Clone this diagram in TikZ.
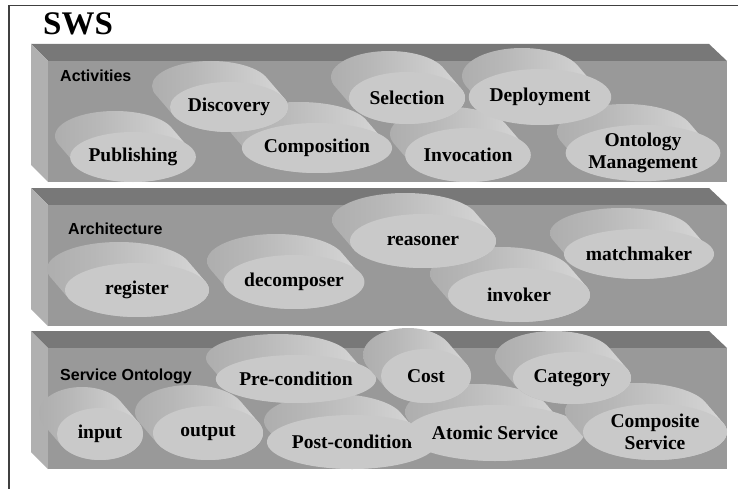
\documentclass[tikz,border=0pt]{standalone}
\usepackage{fontspec}
\setmainfont{Liberation Serif}
\newfontfamily\lsans{Liberation Sans}
\usetikzlibrary{shapes.geometric}
\definecolor{topface}{gray}{0.47}
\definecolor{frontface}{gray}{0.60}
\definecolor{leftface}{gray}{0.69}
\definecolor{discface}{gray}{0.79}
\definecolor{sidea}{gray}{0.62}
\definecolor{sideb}{gray}{0.72}
\definecolor{sidec}{gray}{0.84}
\definecolor{sided}{gray}{0.60}
\definecolor{framecol}{gray}{0.25}
\pgfdeclarehorizontalshading{discside}{100bp}{color(0bp)=(sidea); color(40bp)=(sideb); color(74bp)=(sidec); color(87bp)=(white); color(100bp)=(sided)}
\tikzset{
  discfront/.style={ellipse, fill=discface, inner sep=0pt, align=center,
    font=\bfseries\fontsize{19.5}{22}\selectfont},
  layerlabel/.style={anchor=base west, inner sep=0pt, font=\lsans\bfseries\fontsize{16}{18}\selectfont},
  discshade/.style={shading=discside}
}
% name, cx, cy, rx, ry, text
\newcommand\mydisc[6]{%
  \shade[discshade] \foreach \k in {0,1,...,18}{ ({#2-18+18*\k/18},{#3-21+21*\k/18}) ellipse [x radius=#4pt, y radius=#5pt] };
  \node[discfront, minimum width={2*#4pt}, minimum height={2*#5pt}] (#1) at (#2,#3) {#6};
}
% name, ytop, yfront, ybottom
\newcommand\myslab[4]{%
  \fill[topface] (31,#2) -- (709,#2) -- (727,#3) -- (48,#3) -- cycle;
  \fill[leftface] (31,#2) -- (48,#3) -- (48,#4) -- (31,{#4-17}) -- cycle;
  \fill[frontface] (48,#3) rectangle (727,#4);
  \coordinate (#1) at (48,#3);
}
\begin{document}
\begin{tikzpicture}[x=1pt,y=-1pt]
\useasboundingbox (0,0) rectangle (738,489);
\fill[white] (0,0) rectangle (738,489);
\draw[framecol, line width=1.3pt] (9,489) -- (9,5.5) -- (738,5.5);
\node[anchor=base west, inner sep=0pt, font=\bfseries\fontsize{33}{36}\selectfont] (title) at (43,35) {SWS};

% Layer 1
\myslab{slabA}{44}{61}{182}
\node[layerlabel] (activities) at (60,82) {Activities};
\mydisc{publishing}{133}{157}{60}{25}{Publishing}
\mydisc{composition}{317}{148}{70}{25}{Composition}
\mydisc{invocation}{468}{155}{60}{27}{Invocation}
\mydisc{ontman}{643}{153}{68}{28}{Ontology\\Management}
\mydisc{discovery}{229}{107}{59}{25}{Discovery}
\mydisc{selection}{407}{98}{58}{26}{Selection}
\mydisc{deployment}{540}{97}{60}{28}{Deployment}

% Layer 2
\myslab{slabB}{188}{205}{326}
\node[layerlabel] (architecture) at (68,234) {Architecture};
\mydisc{register}{137}{290}{72}{27}{register}
\mydisc{decomposer}{294}{282}{69}{27}{decomposer}
\mydisc{invoker}{519}{295}{71}{27}{invoker}
\mydisc{reasoner}{423}{241}{73}{27}{reasoner}
\mydisc{matchmaker}{639}{254}{71}{25}{matchmaker}

% Layer 3
\myslab{slabC}{331}{348}{469}
\node[layerlabel] (serviceont) at (60,380) {Service Ontology};
\mydisc{input}{100}{434}{43}{26}{input}
\mydisc{output}{208}{433}{55}{27}{output}
\mydisc{postcond}{352}{442}{70}{27}{Post-condition}
\mydisc{atomic}{495}{433}{72}{28}{Atomic Service}
\mydisc{composite}{655}{432}{72}{28}{Composite\\Service}
\mydisc{precond}{296}{379}{72}{24}{Pre-condition}
\mydisc{cost}{426}{376}{45}{27}{Cost}
\mydisc{category}{572}{378}{59}{26}{Category}
\end{tikzpicture}
\end{document}
